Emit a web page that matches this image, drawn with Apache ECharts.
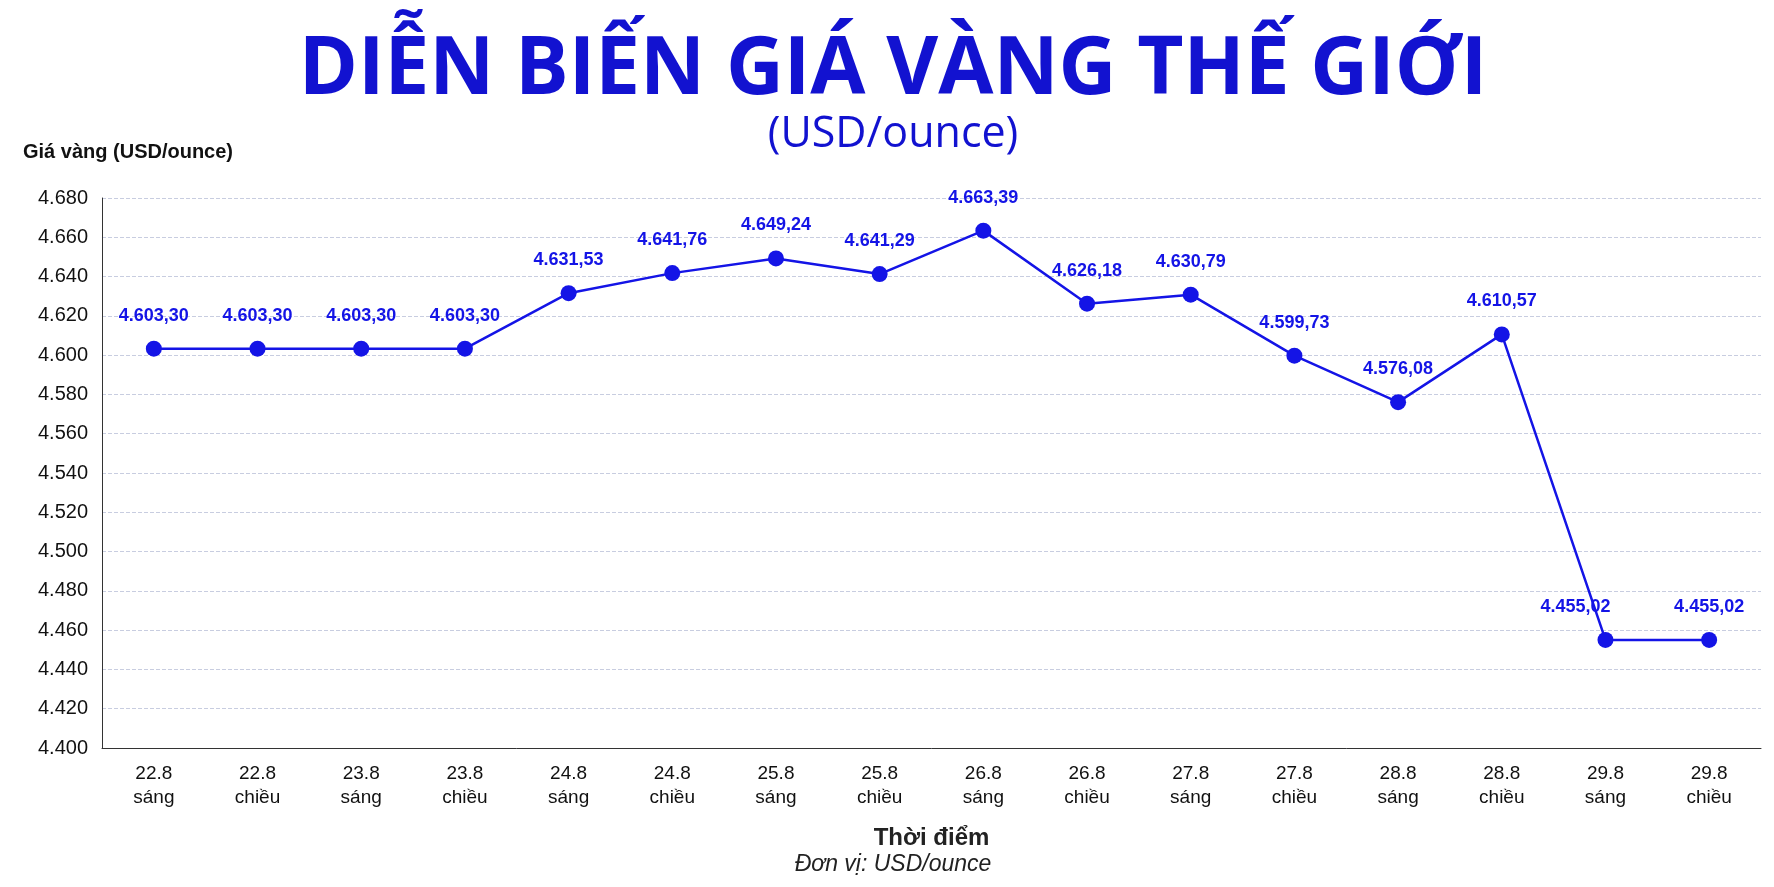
<!DOCTYPE html>
<html><head><meta charset="utf-8">
<script src="https://cdn.jsdelivr.net/npm/echarts@6/dist/echarts.min.js"></script>
<style>html,body{margin:0;background:#fff}#c{width:1774px;height:887px}</style>
</head><body><div id="c"></div>
<script>
const days = ['22.8','22.8','23.8','23.8','24.8','24.8','25.8','25.8','26.8','26.8','27.8','27.8','28.8','28.8','29.8','29.8'];
const sessions = ['sáng','chiều','sáng','chiều','sáng','chiều','sáng','chiều','sáng','chiều','sáng','chiều','sáng','chiều','sáng','chiều'];
const prices = [4603.30,4603.30,4603.30,4603.30,4631.53,4641.76,4649.24,4641.29,4663.39,4626.18,4630.79,4599.73,4576.08,4610.57,4455.02,4455.02];
const categories = days.map((d,i)=>d+'\n'+sessions[i]);
const fmt = v => {
  const [a,b] = v.toFixed(2).split('.');
  return a.replace(/\B(?=(\d{3})+(?!\d))/g,'.') + (b!==undefined?','+b:'');
};
const blue = '#1414e6';
const chart = echarts.init(document.getElementById('c'));
chart.setOption({
  animation:false,
  textStyle:{fontFamily:'Liberation Sans, Arial'},
  title:[
    {text:'DIỄN BIẾN GIÁ VÀNG THẾ GIỚI',left:888,top:26,textAlign:'center',textStyle:{fontSize:80,fontWeight:'bold',color:'#1212d0',fontFamily:'Open Sans'}},
    {text:'(USD/ounce)',left:888,top:108,textAlign:'center',textStyle:{fontSize:43,fontWeight:'normal',color:'#1212d0',fontFamily:'Open Sans'}},
    {text:'Đơn vị: USD/ounce',left:888,top:848,textAlign:'center',textStyle:{fontSize:23,fontWeight:'normal',fontStyle:'italic',color:'#222'}}
  ],
  grid:{left:102,right:13,top:198,bottom:139,containLabel:false},
  xAxis:{type:'category',data:categories,boundaryGap:true,
    name:'Thời điểm',nameLocation:'middle',nameGap:78,
    nameTextStyle:{fontSize:24,fontWeight:'bold',color:'#222'},
    axisLine:{lineStyle:{color:'#333'}},axisTick:{show:false},
    axisLabel:{fontSize:19,color:'#111',lineHeight:24,margin:14,interval:0}},
  yAxis:{type:'value',min:4400,max:4680,interval:20,
    name:'Giá vàng (USD/ounce)',nameLocation:'end',nameGap:36,
    nameTextStyle:{fontSize:20,fontWeight:'bold',color:'#111',align:'left',padding:[0,0,0,-79]},
    axisLine:{show:true,lineStyle:{color:'#333'}},axisTick:{show:false},
    axisLabel:{fontSize:20,color:'#111',formatter:v=>fmt(v).replace(/,00$/,''),margin:14},
    splitLine:{lineStyle:{type:'dashed',color:'#c8cde0'}}},
  series:[{type:'line',data:prices.map((v,i)=>i===14?{value:v,label:{offset:[-30,0]}}:v),
    color:blue,lineStyle:{width:2.5,color:blue},symbol:'circle',symbolSize:16,
    itemStyle:{color:blue},
    label:{show:true,position:'top',distance:16,fontSize:18,fontWeight:'bold',color:blue,formatter:p=>fmt(p.value)}}]
});
</script></body></html>
